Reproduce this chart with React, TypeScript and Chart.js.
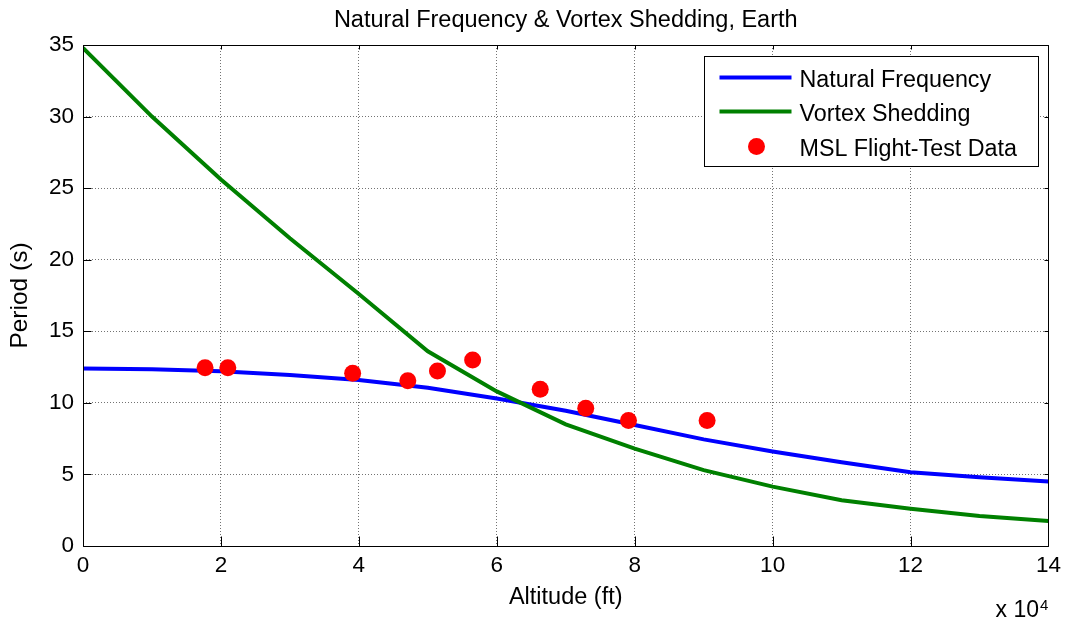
import React, { useEffect, useRef } from 'react';
import { Chart, registerables } from 'chart.js';

Chart.register(...registerables);

const FONT = '"Liberation Sans", Arial, Helvetica, sans-serif';

const TITLE = 'Natural Frequency & Vortex Shedding, Earth';
const X_LABEL = 'Altitude (ft)';
const Y_LABEL = 'Period (s)';
const X_MULTIPLIER = 'x 10';
const X_EXPONENT = '4';

const SERIES_NAMES = ['Natural Frequency', 'Vortex Shedding', 'MSL Flight-Test Data'];

// Altitude in units of 10^4 ft
const modelAltitude = [0, 1, 2, 3, 4, 5, 6, 7, 8, 9, 10, 11, 12, 13, 14];
const naturalFrequency = [12.4, 12.35, 12.2, 11.95, 11.6, 11.05, 10.3, 9.45, 8.45, 7.45, 6.6, 5.85, 5.15, 4.8, 4.5];
const vortexShedding = [34.8, 30.0, 25.6, 21.5, 17.6, 13.6, 10.8, 8.5, 6.8, 5.3, 4.15, 3.2, 2.6, 2.1, 1.75];

const flightAltitude = [1.77, 2.1, 3.91, 4.71, 5.14, 5.65, 6.63, 7.29, 7.91, 9.05];
const flightPeriod = [12.45, 12.45, 12.07, 11.55, 12.23, 13.0, 10.95, 9.62, 8.76, 8.76];

const X_MIN = 0;
const X_MAX = 14;
const X_STEP = 2;
const Y_MIN = 0;
const Y_MAX = 35;
const Y_STEP = 5;

const COLORS = ['#0000ff', '#008000', '#ff0000'];

const decorPlugin = {
  id: 'matlabDecor',
  afterDatasetsDraw(chart: any) {
    const { ctx, chartArea: a, scales } = chart;
    const xs = scales.x;
    const ys = scales.y;
    ctx.save();

    // axes box
    const L = Math.round(a.left) + 0.5;
    const T = Math.round(a.top) + 0.5;
    const R = Math.round(a.right) + 0.5;
    const B = Math.round(a.bottom) + 0.5;
    ctx.strokeStyle = '#000';
    ctx.lineWidth = 1;
    ctx.setLineDash([]);
    ctx.beginPath();
    ctx.moveTo(L, T);
    ctx.lineTo(R, T);
    ctx.lineTo(R, B);
    ctx.lineTo(L, B);
    ctx.closePath();
    ctx.stroke();

    // inward ticks
    ctx.beginPath();
    for (const t of xs.ticks) {
      const px = Math.round(xs.getPixelForValue(t.value)) + 0.5;
      ctx.moveTo(px, B);
      ctx.lineTo(px, B - 10);
      ctx.moveTo(px, T);
      ctx.lineTo(px, T + 4);
    }
    for (const t of ys.ticks) {
      const py = Math.round(ys.getPixelForValue(t.value)) + 0.5;
      ctx.moveTo(L, py);
      ctx.lineTo(L + 8, py);
      ctx.moveTo(R, py);
      ctx.lineTo(R - 4, py);
    }
    ctx.stroke();

    // legend
    const bw = 334;
    const bh = 110;
    const bx = Math.round(a.right) - 10 - bw + 0.5;
    const by = Math.round(a.top) + 11 + 0.5;
    ctx.fillStyle = '#fff';
    ctx.fillRect(bx, by, bw, bh);
    ctx.strokeStyle = '#000';
    ctx.lineWidth = 1;
    ctx.strokeRect(bx, by, bw, bh);

    const ds = chart.data.datasets;
    const rowY = [by + 21, by + 55, by + 90];
    ctx.font = `23.3px ${FONT}`;
    ctx.textBaseline = 'alphabetic';
    ctx.textAlign = 'left';
    for (let i = 0; i < 3; i++) {
      const d = ds[i];
      const cy = rowY[i];
      if (d.showLine === false) {
        ctx.fillStyle = d.backgroundColor;
        ctx.beginPath();
        ctx.arc(bx + 52, cy, 8.5, 0, Math.PI * 2);
        ctx.fill();
      } else {
        ctx.strokeStyle = d.borderColor;
        ctx.lineWidth = d.borderWidth;
        ctx.beginPath();
        ctx.moveTo(bx + 15, cy);
        ctx.lineTo(bx + 87, cy);
        ctx.stroke();
      }
      ctx.fillStyle = '#000';
      ctx.fillText(d.label, bx + 95, cy + 9);
    }

    // title
    ctx.font = `23.5px ${FONT}`;
    ctx.textAlign = 'center';
    ctx.fillStyle = '#000';
    ctx.fillText(TITLE, (a.left + a.right) / 2, 27);

    // x 10^4
    ctx.textAlign = 'right';
    ctx.font = `23px ${FONT}`;
    ctx.fillText(X_MULTIPLIER, Math.round(a.right) - 9, 617);
    ctx.textAlign = 'left';
    ctx.font = `15px ${FONT}`;
    ctx.fillText(X_EXPONENT, Math.round(a.right) - 8, 610);

    ctx.restore();
  },
};

export default function App() {
  const ref = useRef<HTMLCanvasElement | null>(null);

  useEffect(() => {
    if (!ref.current) return;
    const chart = new Chart(ref.current, {
      type: 'line',
      data: {
        datasets: [
          {
            label: SERIES_NAMES[0],
            data: modelAltitude.map((x, i) => ({ x, y: naturalFrequency[i] })),
            borderColor: COLORS[0],
            backgroundColor: COLORS[0],
            borderWidth: 4,
            pointRadius: 0,
            tension: 0,
            order: 3,
          },
          {
            label: SERIES_NAMES[1],
            data: modelAltitude.map((x, i) => ({ x, y: vortexShedding[i] })),
            borderColor: COLORS[1],
            backgroundColor: COLORS[1],
            borderWidth: 4,
            pointRadius: 0,
            tension: 0,
            order: 2,
          },
          {
            label: SERIES_NAMES[2],
            data: flightAltitude.map((x, i) => ({ x, y: flightPeriod[i] })),
            borderColor: COLORS[2],
            backgroundColor: COLORS[2],
            showLine: false,
            pointRadius: 8.5,
            pointBorderWidth: 0,
            pointHoverRadius: 8.5,
            order: 1,
          },
        ],
      },
      options: {
        responsive: false,
        animation: false,
        events: [],
        layout: { padding: { top: 45, right: 17, left: 0, bottom: 0 } },
        plugins: {
          legend: { display: false },
          title: { display: false },
          tooltip: { enabled: false },
        },
        scales: {
          x: {
            type: 'linear',
            min: X_MIN,
            max: X_MAX,
            afterFit: (s: any) => {
              s.height = 78;
            },
            ticks: {
              stepSize: X_STEP,
              color: '#000',
              font: { family: FONT, size: 22.5 },
              padding: 6,
              maxRotation: 0,
            },
            grid: {
              color: 'rgba(0,0,0,0.55)',
              lineWidth: 1,
              drawTicks: false,
            },
            border: { display: false, dash: [1, 2] },
            title: {
              display: true,
              text: X_LABEL,
              color: '#000',
              font: { family: FONT, size: 23.5 },
              padding: { top: 0, bottom: 12 },
            },
          },
          y: {
            type: 'linear',
            min: Y_MIN,
            max: Y_MAX,
            afterFit: (s: any) => {
              s.width = 83;
            },
            ticks: {
              stepSize: Y_STEP,
              color: '#000',
              font: { family: FONT, size: 22.5 },
              padding: 9,
            },
            grid: {
              color: 'rgba(0,0,0,0.55)',
              lineWidth: 1,
              drawTicks: false,
            },
            border: { display: false, dash: [1, 2] },
            title: {
              display: true,
              text: Y_LABEL,
              color: '#000',
              font: { family: FONT, size: 24.5 },
              padding: { top: 6, bottom: 0 },
            },
          },
        },
      },
      plugins: [decorPlugin],
    });
    return () => chart.destroy();
  }, []);

  return (
    <div style={{ position: 'absolute', left: 0, top: 0, width: 1067, height: 624, background: '#fff' }}>
      <canvas ref={ref} width={1067} height={624} style={{ display: 'block', width: 1067, height: 624 }} />
    </div>
  );
}
